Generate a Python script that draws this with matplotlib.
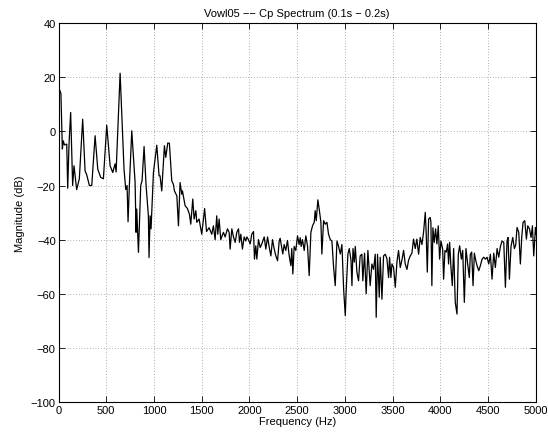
import matplotlib
matplotlib.use('Agg')
import matplotlib.pyplot as plt

matplotlib.rcParams['font.family'] = ['Liberation Sans', 'DejaVu Sans']
matplotlib.rcParams['font.size'] = 8

# spectrum (Hz, dB)
freq = [0, 10, 25, 40, 50, 62, 86, 96, 110, 127, 148, 162, 190, 218, 253, 278, 295,
        323, 348, 383, 411, 442, 470, 505, 540, 568, 592, 603, 645, 686, 704, 718,
        728, 742, 767, 802, 812, 819, 837, 861, 875, 896, 917, 941, 948, 959, 969,
        994, 1029, 1053, 1063, 1081, 1109, 1123, 1144, 1161, 1186, 1203, 1214, 1239,
        1256, 1273, 1291, 1298, 1326, 1350, 1371, 1385, 1406, 1420, 1438, 1448, 1472,
        1490, 1500, 1530, 1550, 1577, 1594, 1605, 1622, 1640, 1657, 1668, 1682, 1699,
        1727, 1745, 1769, 1787, 1797, 1815, 1832, 1850, 1867, 1885, 1895, 1909, 1926,
        1944, 1961, 1972, 1989, 2007, 2024, 2042, 2052, 2066, 2077, 2094, 2112, 2129,
        2154, 2171, 2189, 2210, 2224, 2241, 2259, 2276, 2294, 2311, 2321, 2349, 2363,
        2380, 2398, 2415, 2433, 2443, 2454, 2468, 2485, 2503, 2520, 2531, 2541, 2555,
        2573, 2590, 2608, 2625, 2643, 2660, 2678, 2688, 2699, 2716, 2730, 2748, 2758,
        2776, 2793, 2811, 2828, 2846, 2863, 2881, 2898, 2916, 2933, 2951, 2968, 2986,
        3003, 3013, 3031, 3045, 3063, 3073, 3084, 3098, 3108, 3125, 3142, 3159, 3177,
        3187, 3205, 3222, 3240, 3264, 3282, 3299, 3317, 3327, 3341, 3359, 3369, 3387,
        3404, 3422, 3439, 3457, 3467, 3481, 3492, 3509, 3527, 3544, 3561, 3579, 3596,
        3614, 3631, 3649, 3666, 3684, 3701, 3718, 3736, 3753, 3771, 3788, 3806, 3823,
        3841, 3851, 3862, 3876, 3893, 3900, 3910, 3921, 3935, 3949, 3963, 3977, 3991,
        4005, 4023, 4033, 4047, 4061, 4075, 4085, 4096, 4110, 4124, 4138, 4155, 4173,
        4187, 4201, 4219, 4233, 4250, 4267, 4285, 4302, 4313, 4327, 4341, 4355, 4369,
        4383, 4401, 4418, 4436, 4453, 4471, 4488, 4506, 4523, 4540, 4558, 4575, 4593,
        4610, 4628, 4645, 4663, 4680, 4697, 4708, 4722, 4739, 4757, 4774, 4788, 4802,
        4820, 4837, 4851, 4865, 4883, 4900, 4914, 4932, 4949, 4963, 4977, 4995, 5000]
mag = [10, 15.5, 14, -6.5, -3.5, -5, -4.7, -21, -4.7, 7, -20, -12.7, -21.5, -17.5, 4.5,
       -14.6, -16, -20, -20, -1.6, -14, -17, -17.5, 2.3, -12.7, -15.2, -12, -15, 21.5,
       -14, -21.5, -20, -33.4, -20, 0.2, -18.9, -37.3, -28.7, -44.7, -20, -18.2, -5.6,
       -20, -31.2, -46.6, -31.2, -36, -15.2, -5.1, -16.4, -16.4, -22, -5.3, -9.6, -4.3,
       -4.4, -18.2, -19.6, -22, -23.8, -34.9, -18.9, -23.2, -22, -27.5, -28.5, -30.6,
       -34.3, -25, -32.4, -29.3, -33.6, -32.4, -36, -38, -28.5, -37, -35.6, -37, -38,
       -34.9, -40, -31.2, -38, -32.4, -40, -37.3, -39, -36, -37.3, -43.5, -36, -39, -41,
       -37.3, -36, -41, -38, -43.5, -39, -40.5, -39, -40, -41.6, -38, -37, -47.2, -42.3,
       -47.2, -40, -42.9, -41.6, -39, -43.5, -39, -43.5, -46, -40, -43.5, -46, -47.8,
       -40.5, -39.5, -45.3, -41.8, -44, -40.3, -45.8, -49.6, -43.3, -52.7, -42.5, -44,
       -38.6, -41.8, -39.3, -42.5, -40, -44, -38.6, -42.5, -53.3, -37.3, -34.9, -33.6,
       -29.3, -33, -25.3, -28.7, -33.6, -45.3, -33, -34.3, -33.6, -38, -40, -40.5,
       -50.3, -57, -40.5, -42.5, -45.3, -41.8, -58.3, -68.1, -58.3, -45.3, -43.3, -47.6,
       -57, -43.3, -48.3, -42.5, -52, -55.2, -46, -45.4, -55.2, -45, -60, -44, -57, -49,
       -51, -45.4, -68.7, -45.4, -61.3, -46.5, -62, -46, -45.4, -47, -54, -46.5, -54,
       -49, -50.3, -57.6, -48.3, -44, -50.3, -47.6, -44, -49, -51, -47.6, -46, -45,
       -39.8, -43.3, -39.8, -45.4, -39.2, -41.8, -37.3, -29.9, -38, -52, -32.4, -31.8,
       -33.6, -57, -35.6, -41, -36, -41.6, -34.9, -47.2, -40.5, -43.5, -54.6, -44,
       -44.6, -41.6, -49, -41, -50.3, -57, -43.3, -63.2, -67.5, -45.4, -42.3, -47.2,
       -44, -63.2, -43.3, -49, -54, -45.4, -44.6, -57, -45, -47.6, -49.6, -51.5, -49.6,
       -47.2, -46.5, -47.2, -46.5, -49, -45.4, -54.6, -45, -50.3, -43.3, -46.5, -42.5,
       -40.5, -41, -57.6, -40.5, -39.2, -54.6, -42.5, -39.2, -43.3, -42, -35.5, -37.3,
       -49, -39.2, -33.6, -33, -39.8, -34.9, -36, -39.2, -34.9, -46, -35.5, -38]

fig = plt.figure(figsize=(5.48, 4.39), dpi=100)
ax = fig.add_axes([0.1068, 0.082, 0.8712, 0.863])
ax.plot(freq, mag, color='black', linewidth=0.9)

ax.set_xlim(0, 5000)
ax.set_ylim(-100, 40)
ax.set_xticks(range(0, 5001, 500))
ax.set_yticks(range(-100, 41, 20))
ax.grid(True, color='black', linestyle=(0, (1, 3)), linewidth=0.5, alpha=0.6)
ax.tick_params(direction='in', top=True, right=True, length=4, width=0.6, pad=2)
for sp in ax.spines.values():
    sp.set_linewidth(0.8)

ax.set_xlabel('Frequency (Hz)', labelpad=1)
ax.set_ylabel('Magnitude (dB)', labelpad=4)
ax.set_title('Vowl05 \u2212\u2212 Cp Spectrum (0.1s \u2212 0.2s)', fontsize=8, pad=5)

fig.savefig('out.png', dpi=100)
